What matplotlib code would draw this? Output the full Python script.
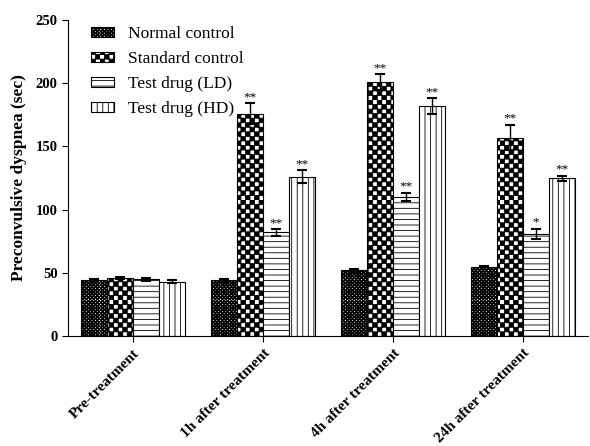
import numpy as np
import matplotlib
matplotlib.use("Agg")
import matplotlib.pyplot as plt
import matplotlib.hatch as mhatch
from matplotlib.path import Path

# data
groups = ["Pre-treatment", "1h after treatment", "4h after treatment", "24h after treatment"]
series = ["Normal control", "Standard control", "Test drug (LD)", "Test drug (HD)"]
normal = [44, 44, 52, 55]
standard = [46, 176, 201, 157]
ld = [45, 82, 110, 81]
hd = [43, 126, 182, 125]
normal_err = [0.8, 1.0, 1.0, 0.6]
standard_err = [1.0, 8.0, 6.0, 10.0]
ld_err = [1.2, 2.5, 3.5, 4.0]
hd_err = [1.0, 5.0, 6.0, 2.0]
normal_sig = ["", "", "", ""]
standard_sig = ["", "**", "**", "**"]
ld_sig = ["", "**", "**", "*"]
hd_sig = ["", "**", "**", "**"]


class CheckerHatch(mhatch.HatchPatternBase):
    # checkerboard made of filled squares, replaces the '*' stars hatch
    filled = True

    def __init__(self, hatch, density):
        self.n = hatch.count('*') * 11
        if self.n % 2:
            self.n += 1
        self.num_vertices = (self.n * self.n // 2) * 5

    def set_vertices_and_codes(self, vertices, codes):
        s = 1.0 / self.n
        k = 0
        for i in range(self.n):
            for j in range(self.n):
                if (i + j) % 2:
                    continue
                x0, y0 = i * s, j * s
                vertices[k:k + 5] = [(x0, y0), (x0 + s, y0), (x0 + s, y0 + s),
                                     (x0, y0 + s), (x0, y0)]
                codes[k] = Path.MOVETO
                codes[k + 1:k + 4] = Path.LINETO
                codes[k + 4] = Path.CLOSEPOLY
                k += 5


mhatch._hatch_types = [CheckerHatch if t is mhatch.Stars else t
                       for t in mhatch._hatch_types]

plt.rcParams['font.family'] = ['Liberation Serif', 'DejaVu Serif']
plt.rcParams['hatch.linewidth'] = 0.6

fig = plt.figure(figsize=(5.9, 4.46), dpi=100)
ax = fig.add_axes([0.1153, 0.2466, 0.8813, 0.7084])

x = np.arange(len(groups))
w = 0.2
data = [normal, standard, ld, hd]
errs = [normal_err, standard_err, ld_err, hd_err]
sigs = [normal_sig, standard_sig, ld_sig, hd_sig]
hatches = ['*****', '**', '---', '|||']

for i in range(4):
    pos = x + (i - 1.5) * w
    ax.bar(pos, data[i], w, color='white', edgecolor='black', linewidth=0.8,
           hatch=hatches[i], label=series[i])
    ax.errorbar(pos, data[i], yerr=errs[i], fmt='none', ecolor='black',
                elinewidth=1.0, capsize=3.6, capthick=1.5)
    for p, v, e, s in zip(pos, data[i], errs[i], sigs[i]):
        if s:
            ax.text(p, v + e + 0.3, s, ha='center', va='bottom', fontsize=9.5)

ax.set_xlim(-0.5, 3.5)
ax.set_ylim(0, 250)
ax.set_yticks([0, 50, 100, 150, 200, 250])
ax.set_xticks(x)
ax.set_xticklabels(groups, rotation=45, ha='right', rotation_mode='anchor',
                   fontweight='bold', fontsize=11)
for t in ax.get_yticklabels():
    t.set_fontweight('bold')
    t.set_fontsize(10.5)
ax.set_ylabel('Preconvulsive dyspnea (sec)', fontweight='bold', fontsize=12.5,
              labelpad=6)
ax.spines['top'].set_visible(False)
ax.spines['right'].set_visible(False)
ax.tick_params(direction='out', length=4, width=0.8)

ax.legend(loc='upper left', bbox_to_anchor=(0.015, 1.03), frameon=False,
          fontsize=12.5, handlelength=1.3, handleheight=0.5,
          handletextpad=0.8, labelspacing=0.52)

fig.savefig('out.png', dpi=100)
